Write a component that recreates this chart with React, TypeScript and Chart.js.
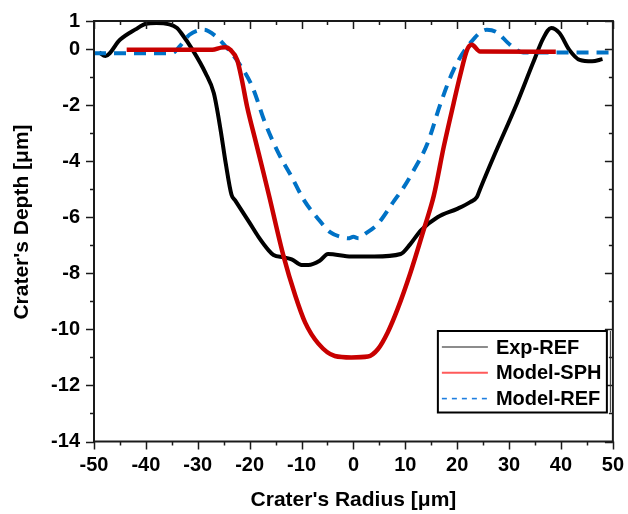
import { useEffect, useRef } from 'react';
import { Chart, registerables } from 'chart.js';

Chart.register(...registerables);

const X_TICKS = [-50, -40, -30, -20, -10, 0, 10, 20, 30, 40, 50];
const X_MINOR = [-45, -35, -25, -15, -5, 5, 15, 25, 35, 45];
const Y_TICKS = [1, 0, -2, -4, -6, -8, -10, -12, -14];
const Y_MINOR = [-1, -3, -5, -7, -9, -11, -13];

const SERIES_NAMES = ['Exp-REF', 'Model-SPH', 'Model-REF'];

const expRefX = [-49, -47.8, -45, -42, -40, -38, -35.5, -34, -33.2, -31, -28.5, -26.9, -25.6, -24.6, -23.5, -22.8, -20, -18.3, -16.3, -15.4, -13.5, -11.9, -10, -8.7, -6.5, -4.9, -0.4, 4, 9.1, 11, 13, 16.2, 20, 22.5, 23.8, 24.4, 27, 31.5, 34.6, 36.6, 38.1, 39.7, 41.6, 43.6, 46, 48];
const expRefY = [-0.12, -0.25, 0.33, 0.7, 0.9, 0.93, 0.88, 0.75, 0.57, -0.03, -0.86, -1.58, -2.89, -4.09, -5.2, -5.4, -6.2, -6.7, -7.19, -7.35, -7.43, -7.5, -7.7, -7.7, -7.55, -7.31, -7.4, -7.4, -7.31, -6.95, -6.47, -6.0, -5.7, -5.46, -5.28, -5.0, -3.85, -1.94, -0.5, 0.39, 0.75, 0.57, -0.03, -0.39, -0.44, -0.36];

const modelSphX = [-43.7, -27.2, -25.5, -24.7, -23.7, -22.4, -21.5, -20.5, -18.9, -17.3, -16.2, -13.5, -11.2, -9.3, -6.8, -3.6, -0.4, 2.8, 4.7, 6.6, 8.5, 11, 13.6, 15.5, 17.4, 19.3, 20.6, 21.9, 22.8, 24.4, 39];
const modelSphY = [-0.03, -0.03, 0.05, 0.06, -0.03, -0.39, -1.1, -2.05, -3.25, -4.44, -5.28, -7.37, -8.8, -9.76, -10.5, -10.95, -11.0, -10.97, -10.71, -10.11, -9.28, -7.97, -6.41, -5.22, -3.49, -1.94, -0.92, -0.03, 0.15, -0.09, -0.1];

const modelRefX = [-50, -35, -33.5, -31.6, -28.8, -26.5, -24.6, -22.1, -19.5, -17, -14.4, -11.9, -9.5, -6.8, -4.5, -2, -1, 0, 1, 2.2, 4.7, 7.9, 9.8, 11.7, 14.2, 16.8, 19.3, 22.5, 25.7, 27.6, 30.2, 32.7, 50];
const modelRefY = [-0.15, -0.15, 0.09, 0.51, 0.69, 0.45, 0.09, -0.5, -1.34, -2.65, -3.73, -4.56, -5.4, -6.06, -6.53, -6.72, -6.75, -6.7, -6.75, -6.6, -6.24, -5.4, -4.9, -4.3, -3.4, -1.94, -0.74, 0.21, 0.69, 0.6, 0.15, -0.12, -0.12];

const FONT = '"Liberation Sans", Arial, sans-serif';

const toPoints = (xs: number[], ys: number[]) => xs.map((x, i) => ({ x, y: ys[i] }));

const framePlugin = {
  id: 'framePlugin',
  afterDatasetsDraw(chart: any) {
    const { ctx, chartArea: a, scales } = chart;
    const xs = scales.x;
    const ys = scales.y;
    ctx.save();
    const line = (x1: number, y1: number, x2: number, y2: number) => {
      ctx.beginPath();
      ctx.moveTo(x1, y1);
      ctx.lineTo(x2, y2);
      ctx.stroke();
    };
    ctx.strokeStyle = '#1a1a1a';
    ctx.lineWidth = 1.5;
    X_TICKS.forEach((v) => {
      const px = Math.round(xs.getPixelForValue(v)) + 0.5;
      line(px, a.bottom, px, a.bottom + 8);
      line(px, a.top, px, a.top + 8);
    });
    X_MINOR.forEach((v) => {
      const px = Math.round(xs.getPixelForValue(v)) + 0.5;
      line(px, a.bottom, px, a.bottom + 4);
      line(px, a.top, px, a.top + 4);
    });
    Y_TICKS.forEach((v) => {
      const py = Math.round(ys.getPixelForValue(v)) + 0.5;
      line(a.left - 8, py, a.left, py);
      line(a.right, py, a.right - 8, py);
    });
    Y_MINOR.forEach((v) => {
      const py = Math.round(ys.getPixelForValue(v)) + 0.5;
      line(a.left - 4, py, a.left, py);
      line(a.right, py, a.right - 4, py);
    });
    ctx.lineWidth = 2;
    ctx.strokeRect(a.left, a.top, a.right - a.left, a.bottom - a.top);

    // legend
    const lx = a.right - 175;
    const ly = a.bottom - 110.5;
    const lw = 169;
    const lh = 81.5;
    ctx.fillStyle = '#ffffff';
    ctx.fillRect(lx, ly, lw, lh);
    ctx.strokeStyle = '#000000';
    ctx.lineWidth = 2;
    ctx.strokeRect(lx, ly, lw, lh);
    ctx.lineWidth = 1;
    ctx.strokeStyle = '#333333';
    line(lx + lw + 3.5, ly, lx + lw + 3.5, ly + lh);
    const legendStyles = [
      { color: '#8c8c8c', width: 2.2, dash: [] as number[] },
      { color: '#ff5a5a', width: 2, dash: [] as number[] },
      { color: '#1e7fe0', width: 1.6, dash: [5, 5] },
    ];
    ctx.font = `bold 20px ${FONT}`;
    ctx.textAlign = 'left';
    ctx.textBaseline = 'middle';
    chart.data.datasets.forEach((ds: any, i: number) => {
      const cy = ly + 16 + i * 25.8;
      const st = legendStyles[i];
      ctx.strokeStyle = st.color;
      ctx.lineWidth = st.width;
      ctx.setLineDash(st.dash);
      line(lx + 4, cy, lx + 50, cy);
      ctx.setLineDash([]);
      ctx.fillStyle = '#000000';
      ctx.fillText(ds.label, lx + 58, cy + 1);
    });

    // y axis title
    ctx.translate(22, 222);
    ctx.rotate(-Math.PI / 2);
    ctx.textAlign = 'center';
    ctx.textBaseline = 'middle';
    ctx.font = `bold 21px ${FONT}`;
    ctx.fillStyle = '#000000';
    ctx.fillText("Crater's Depth [μm]", 0, 0);
    ctx.restore();
  },
};

export default function App() {
  const ref = useRef<HTMLCanvasElement | null>(null);
  useEffect(() => {
    document.body.style.margin = '0';
    const canvas = ref.current;
    if (!canvas) return;
    const chart = new Chart(canvas, {
      type: 'line',
      data: {
        datasets: [
          {
            label: SERIES_NAMES[0],
            data: toPoints(expRefX, expRefY),
            borderColor: '#000000',
            borderWidth: 4,
            pointRadius: 0,
            cubicInterpolationMode: 'monotone',
            order: 3,
          },
          {
            label: SERIES_NAMES[1],
            data: toPoints(modelSphX, modelSphY),
            borderColor: '#c80000',
            borderWidth: 4.5,
            pointRadius: 0,
            cubicInterpolationMode: 'monotone',
            order: 1,
          },
          {
            label: SERIES_NAMES[2],
            data: toPoints(modelRefX, modelRefY),
            borderColor: '#0072c6',
            borderWidth: 4,
            borderDash: [12, 8],
            pointRadius: 0,
            cubicInterpolationMode: 'monotone',
            order: 2,
          },
        ],
      },
      options: {
        responsive: false,
        animation: false,
        layout: { padding: { left: 0, right: 11, top: 21, bottom: 0 } },
        plugins: { legend: { display: false }, tooltip: { enabled: false } },
        scales: {
          x: {
            type: 'linear',
            min: -50,
            max: 50,
            afterBuildTicks: (s: any) => {
              s.ticks = X_TICKS.map((v) => ({ value: v }));
            },
            afterFit: (s: any) => {
              s.height = 72.5;
            },
            grid: { display: false, drawTicks: true, tickLength: 8 },
            border: { display: false },
            ticks: {
              autoSkip: false,
              maxRotation: 0,
              padding: 4,
              color: '#000000',
              font: { family: FONT, size: 20, weight: 'bold' },
            },
            title: {
              display: true,
              text: "Crater's Radius [μm]",
              color: '#000000',
              font: { family: FONT, size: 21, weight: 'bold' },
              padding: { top: 0, bottom: 1 },
            },
          },
          y: {
            type: 'linear',
            min: -14,
            max: 1,
            afterBuildTicks: (s: any) => {
              s.ticks = Y_TICKS.map((v) => ({ value: v }));
            },
            afterFit: (s: any) => {
              s.width = 94;
            },
            grid: { display: false, drawTicks: true, tickLength: 8 },
            border: { display: false },
            ticks: {
              autoSkip: false,
              padding: 6,
              color: '#000000',
              font: { family: FONT, size: 20, weight: 'bold' },
            },
          },
        },
      },
      plugins: [framePlugin],
    });
    return () => chart.destroy();
  }, []);
  return (
    <div style={{ width: 628, height: 514 }}>
      <canvas ref={ref} width={628} height={514} />
    </div>
  );
}
